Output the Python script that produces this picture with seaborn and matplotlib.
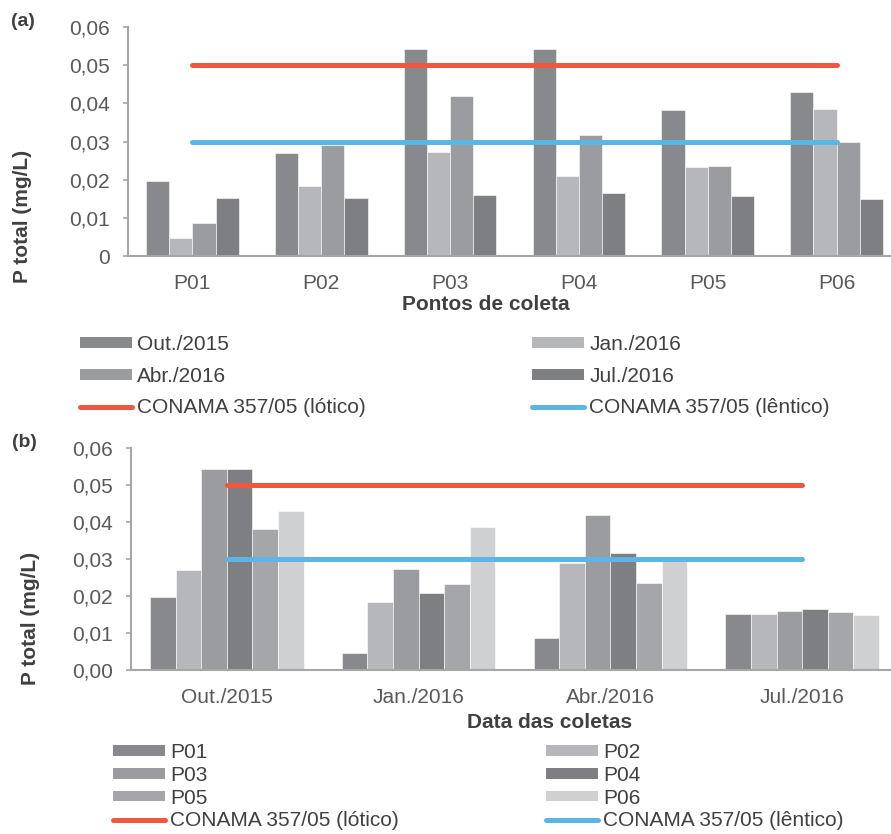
import numpy as np
import pandas as pd
import matplotlib
matplotlib.use("Agg")
import matplotlib.pyplot as plt
import seaborn as sns
from matplotlib.patches import Patch
from matplotlib.lines import Line2D
from matplotlib.ticker import FuncFormatter, MultipleLocator

# ---------------- data ----------------
points = ["P01", "P02", "P03", "P04", "P05", "P06"]
months = ["Out./2015", "Jan./2016", "Abr./2016", "Jul./2016"]
out_2015 = [0.0197, 0.0270, 0.0543, 0.0543, 0.0382, 0.0430]
jan_2016 = [0.0046, 0.0184, 0.0272, 0.0209, 0.0233, 0.0386]
abr_2016 = [0.0087, 0.0290, 0.0419, 0.0316, 0.0236, 0.0299]
jul_2016 = [0.0152, 0.0152, 0.0159, 0.0166, 0.0157, 0.0149]
conama_lotico = 0.05
conama_lentico = 0.03
label_lotico = "CONAMA 357/05 (lótico)"
label_lentico = "CONAMA 357/05 (lêntico)"

df = pd.DataFrame({
    "ponto": points * 4,
    "mes": np.repeat(months, len(points)),
    "p": out_2015 + jan_2016 + abr_2016 + jul_2016,
})

# ---------------- style ----------------
month_colors = ["#88898d", "#b6b7ba", "#9b9ca0", "#7e7f83"]
point_colors = ["#88898d", "#b6b7ba", "#9b9ca0", "#7e7f83", "#a5a6a9", "#cfd0d2"]
red = "#f0573f"
blue = "#5bb6e4"
axis_gray = "#a6a6a6"
text_dark = "#404040"
tick_text = "#595959"

sns.set_theme(style="white")
plt.rcParams["font.family"] = ["Liberation Sans", "DejaVu Sans"]

W, H = 891, 834
fig = plt.figure(figsize=(W / 100, H / 100), dpi=100)


def px_axes(left, top, right, bottom):
    return fig.add_axes([left / W, 1 - bottom / H, (right - left) / W, (bottom - top) / H])


def style_axis(ax, fmt):
    for s in ["top", "right"]:
        ax.spines[s].set_visible(False)
    for s in ["left", "bottom"]:
        ax.spines[s].set_color(axis_gray)
        ax.spines[s].set_linewidth(1.5)
    ax.set_ylim(0, 0.06)
    ax.yaxis.set_major_locator(MultipleLocator(0.01))
    ax.yaxis.set_major_formatter(FuncFormatter(fmt))
    ax.tick_params(axis="y", left=True, length=3.8, width=1.2, color=axis_gray,
                   pad=9, labelsize=15, labelcolor=tick_text)
    ax.tick_params(axis="x", bottom=False, length=0, pad=13, labelsize=15,
                   labelcolor=tick_text)
    ax.set_xlabel("")
    ax.set_ylabel("")
    ax.grid(False)


def fmt_a(v, pos):
    return "0" if abs(v) < 1e-9 else f"{v:.2f}".replace(".", ",")


def fmt_b(v, pos):
    return f"{v:.2f}".replace(".", ",")


# ---------------- panel (a) ----------------
ax1 = px_axes(128, 27, 901, 256)
sns.barplot(data=df, x="ponto", y="p", hue="mes", order=points, hue_order=months,
            palette=month_colors, width=0.72, saturation=1, errorbar=None,
            edgecolor="white", linewidth=0.4, legend=False, ax=ax1)
ax1.plot([0, len(points) - 1], [conama_lotico] * 2, color=red, lw=3.6,
         solid_capstyle="round", zorder=5)
ax1.plot([0, len(points) - 1], [conama_lentico] * 2, color=blue, lw=3.6,
         solid_capstyle="round", zorder=5)
ax1.set_xlim(-0.5, len(points) - 0.5)
style_axis(ax1, fmt_a)

fig.text(486 / W, 1 - 304 / H, "Pontos de coleta", ha="center", va="center",
         fontsize=15, fontweight="bold", color=text_dark)
fig.text(23 / W, 1 - 216 / H, "P total (mg/L)", ha="center", va="center",
         rotation=90, fontsize=15, fontweight="bold", color=text_dark)
fig.text(23 / W, 1 - 21 / H, "(a)", ha="center", va="center",
         fontsize=14, fontweight="bold", color=text_dark)

# ---------------- panel (b) ----------------
ax2 = px_axes(131, 448, 898, 670)
sns.barplot(data=df, x="mes", y="p", hue="ponto", order=months, hue_order=points,
            palette=point_colors, width=0.8, saturation=1, errorbar=None,
            edgecolor="white", linewidth=0.4, legend=False, ax=ax2)
ax2.plot([0, len(months) - 1], [conama_lotico] * 2, color=red, lw=3.6,
         solid_capstyle="round", zorder=5)
ax2.plot([0, len(months) - 1], [conama_lentico] * 2, color=blue, lw=3.6,
         solid_capstyle="round", zorder=5)
ax2.set_xlim(-0.5, len(months) - 0.5)
style_axis(ax2, fmt_b)

fig.text(550 / W, 1 - 722 / H, "Data das coletas", ha="center", va="center",
         fontsize=15, fontweight="bold", color=text_dark)
fig.text(30 / W, 1 - 618 / H, "P total (mg/L)", ha="center", va="center",
         rotation=90, fontsize=15, fontweight="bold", color=text_dark)
fig.text(24 / W, 1 - 442 / H, "(b)", ha="center", va="center",
         fontsize=14, fontweight="bold", color=text_dark)


# ---------------- legends ----------------
def patch(c):
    return Patch(facecolor=c, edgecolor="none")


def line(c):
    return Line2D([], [], color=c, lw=3.6, solid_capstyle="round")


def add_legend(handles, labels, x, y, spacing):
    leg = fig.legend(handles, labels, loc="upper left",
                     bbox_to_anchor=(x / W, 1 - y / H), bbox_transform=fig.transFigure,
                     frameon=False, fontsize=15, borderpad=0, borderaxespad=0,
                     handlelength=2.5, handleheight=0.4, handletextpad=0.25,
                     labelspacing=spacing)
    for t in leg.get_texts():
        t.set_color(text_dark)
    return leg


# legend (a)
add_legend([patch(month_colors[0]), patch(month_colors[2]), line(red)],
           [months[0], months[2], label_lotico], 80, 335, 0.61)
add_legend([patch(month_colors[1]), patch(month_colors[3]), line(blue)],
           [months[1], months[3], label_lentico], 532, 335, 0.61)

# legend (b)
add_legend([patch(point_colors[0]), patch(point_colors[2]), patch(point_colors[4]), line(red)],
           [points[0], points[2], points[4], label_lotico], 113, 743, 0.18)
add_legend([patch(point_colors[1]), patch(point_colors[3]), patch(point_colors[5]), line(blue)],
           [points[1], points[3], points[5], label_lentico], 546, 743, 0.18)

fig.savefig("out.png", dpi=100)
